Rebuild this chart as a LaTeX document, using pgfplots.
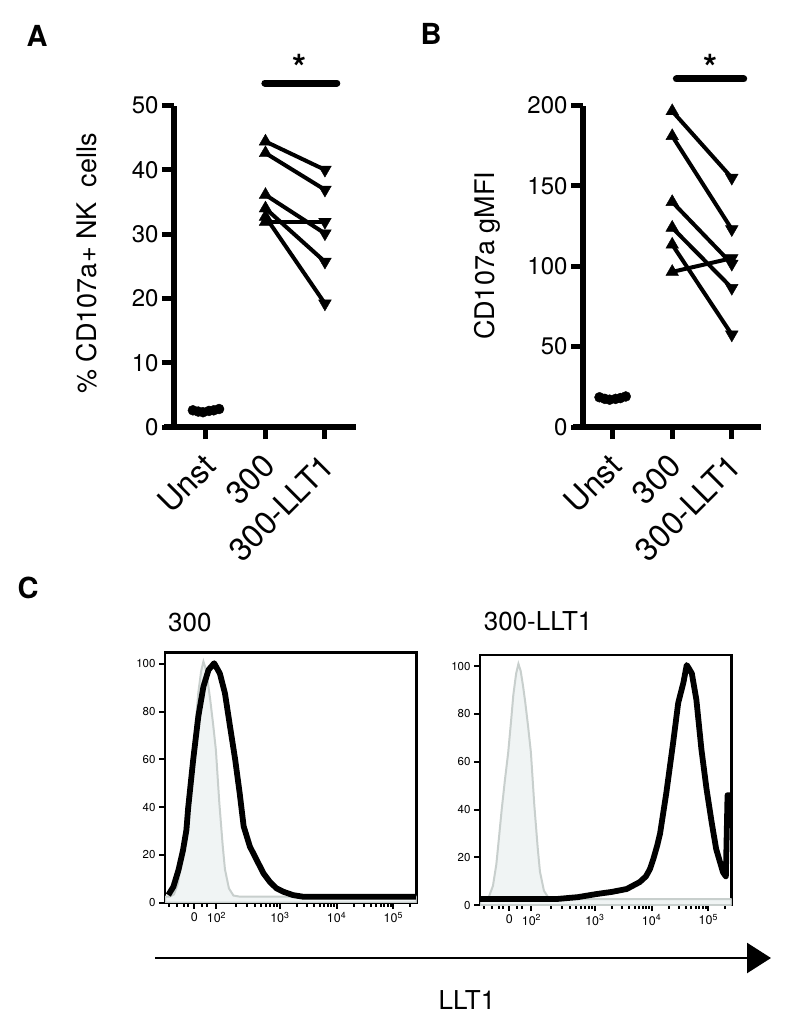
\documentclass[border=0pt]{standalone}
\usepackage{pgfplots}
\pgfplotsset{compat=1.18}
\usepackage{fontspec}
\setmainfont{TeX Gyre Heros}
\usetikzlibrary{arrows.meta}
\definecolor{ctrlfill}{HTML}{F0F4F4}
\definecolor{ctrlline}{HTML}{C8CFCD}
\newcommand{\fs}[1]{\fontsize{#1}{#1}\selectfont}

\pgfplotsset{
 dotplot/.style={scale only axis, height=321.5pt, ymin=0,
   axis x line*=bottom, axis y line*=left,
   axis line style={line width=6pt,-}, x axis line style={shorten <=-10pt},
   xtick={0,1,2}, xticklabels={Unst,300,300-LLT1},
   tick align=outside, major tick length=12pt, tick style={line width=5pt,black},
   /pgf/number format/assume math mode=true,
   yticklabel style={font=\fs{24}},
   xticklabel style={font=\fs{32}, xshift=6pt, yshift=-19pt, rotate=45, anchor=east},
   clip=false,
   every axis y label/.style={rotate=90, anchor=center, font=\fs{27}}},
 pair/.style={black, line width=4pt, no marks},
 up/.style={only marks, black, mark=triangle*, mark size=7.3pt},
 down/.style={only marks, black, mark=triangle*, mark size=7.3pt, mark options={rotate=180}},
 hist/.style={scale only axis, width=251.5pt, height=250pt,
   xmin=0.972, xmax=5.41, ymin=0, ymax=104.7,
   axis line style={line width=2.5pt},
   xtick pos=bottom, ytick pos=left, tick align=outside,
   major tick length=6pt, minor tick length=4pt, tick style={line width=2pt, black},
   xtick={1.49,1.88,3,4,5},
   xticklabels={0,10\textsuperscript{2},10\textsuperscript{3},10\textsuperscript{4},10\textsuperscript{5}},
   minor xtick={1.05,1.18,1.30,1.38,1.62,1.72,2.217,2.414,2.554,2.663,2.751,2.826,2.891,2.948,3.301,3.477,3.602,3.699,3.778,3.845,3.903,3.954,4.301,4.477,4.602,4.699,4.778,4.845,4.903,4.954,5.301},
   ytick={0,20,...,100},
   /pgf/number format/assume math mode=true,
   yticklabel style={font=\fs{11.5}},
   xticklabel style={font=\fs{12.5}},
   title style={font=\fs{26}, anchor=center}},
 ctrl/.style={fill=ctrlfill, draw=ctrlline, line width=2pt},
 samp/.style={black, line width=5.8pt, line join=round, no marks}
}

\pgfplotstableread{
u v
0.972 2.5
1.05 2.5
1.13 3.5
1.20 8
1.26 17
1.31 29
1.355 40
1.41 52
1.47 64
1.52 77
1.56 88
1.61 97
1.65 101
1.69 98
1.73 92
1.77 85
1.82 75
1.87 64
1.93 42
1.99 24
2.03 14
2.10 6
2.18 3
2.30 2.5
5.41 2.5
}\ctrltab

\pgfplotstableread{
u v
1.03 3.2
1.12 6.7
1.21 13.7
1.29 22
1.35 30.5
1.38 39.5
1.47 60
1.56 78
1.65 90.5
1.74 97.5
1.84 100.3
1.94 96
2.03 87.7
2.12 73.7
2.21 60
2.29 45.8
2.36 32
2.47 23.5
2.59 17.9
2.71 12.3
2.82 8.8
2.94 6
3.06 4.6
3.23 3.2
3.41 2.5
5.40 2.5
}\sampA

\pgfplotstableread{
u v
0.972 2.5
2.32 2.5
2.7 3.3
3.03 4.6
3.3 5.5
3.56 6.7
3.79 9.6
3.90 12
3.97 15
4.03 19.2
4.10 25
4.15 30
4.26 47
4.38 68
4.47 84.7
4.56 93
4.62 100.5
4.66 99
4.71 97
4.79 86
4.88 65
4.97 48.5
5.06 34.6
5.14 23.4
5.26 13.7
5.31 12
5.34 46
5.40 46
}\sampB

\begin{document}
\begin{tikzpicture}
\path[use as bounding box] (0pt,0pt) rectangle (800pt,-1029pt);

% Panel A
\begin{axis}[dotplot, at={(174pt,-427pt)}, anchor=south west, width=181.5pt,
  xmin=-0.538, xmax=2.514, ymax=50, ytick={0,10,...,50},
  ylabel={\% CD107a+ NK\ \ cells},
  ylabel style={at={(axis description cs:-0.479,0.509)}}]
\addplot[pair] coordinates {(1,44.4) (2,40.0)};
\addplot[pair] coordinates {(1,42.6) (2,36.9)};
\addplot[pair] coordinates {(1,36.1) (2,30.1)};
\addplot[pair] coordinates {(1,34.0) (2,25.7)};
\addplot[pair] coordinates {(1,32.7) (2,19.2)};
\addplot[pair] coordinates {(1,31.9) (2,31.9)};
\addplot[up] coordinates {(1,44.4) (1,42.6) (1,36.1) (1,34.0) (1,32.7) (1,31.9)};
\addplot[down] coordinates {(2,40.0) (2,36.9) (2,30.1) (2,25.7) (2,19.2) (2,31.9)};
\addplot[only marks, black, mark=*, mark size=5pt] coordinates {(-0.22,2.6) (-0.13,2.4) (-0.05,2.3) (0.05,2.5) (0.13,2.6) (0.22,2.8)};
\addplot[black, line width=7pt, line cap=round, no marks] coordinates {(0.99,53.5) (2.2,53.5)};
\node[font=\fs{36}\bfseries] at (axis cs:1.58,56.0) {*};
\end{axis}

% Panel B
\begin{axis}[dotplot, at={(583pt,-427pt)}, anchor=south west, width=178pt,
  xmin=-0.497, xmax=2.49, ymax=200, ytick={0,50,...,200},
  ylabel={CD107a gMFI},
  ylabel style={at={(axis description cs:-0.539,0.532)}}]
\addplot[pair] coordinates {(1,196.5) (2,155)};
\addplot[pair] coordinates {(1,181) (2,123)};
\addplot[pair] coordinates {(1,140) (2,101.5)};
\addplot[pair] coordinates {(1,124) (2,86.5)};
\addplot[pair] coordinates {(1,113.5) (2,57.5)};
\addplot[pair] coordinates {(1,96.5) (2,105)};
\addplot[up] coordinates {(1,196.5) (1,181) (1,140) (1,124) (1,113.5) (1,96.5)};
\addplot[down] coordinates {(2,155) (2,123) (2,101.5) (2,86.5) (2,57.5) (2,105)};
\addplot[only marks, black, mark=*, mark size=5pt] coordinates {(-0.22,18.5) (-0.13,17.5) (-0.05,17) (0.05,17.5) (0.13,18) (0.22,19)};
\addplot[black, line width=7pt, line cap=round, no marks] coordinates {(1.07,216.5) (2.2,216.5)};
\node[font=\fs{36}\bfseries] at (axis cs:1.64,224) {*};
\end{axis}

% Panel C left
\begin{axis}[hist, at={(165pt,-902.7pt)}, anchor=south west,
  title={300}, title style={at={(axis description cs:0.099,1.097)}}]
\addplot[ctrl] table[x=u,y=v] {\ctrltab} \closedcycle;
\addplot[samp] table[x=u,y=v] {\sampA};
\end{axis}

% Panel C right
\begin{axis}[hist, at={(480pt,-905pt)}, anchor=south west,
  title={300-LLT1}, title style={at={(axis description cs:0.231,1.112)}}]
\addplot[ctrl] table[x=u,y=v] {\ctrltab} \closedcycle;
\addplot[samp] table[x=u,y=v] {\sampB};
\end{axis}

\draw[line width=2.5pt, -{Triangle[length=24pt, width=30pt]}] (155pt,-958pt) -- (771pt,-958pt);
\node[font=\fs{26}] at (467pt,-1000pt) {LLT1};

\node[font=\fs{29}\bfseries] at (37pt,-36pt) {A};
\node[font=\fs{29}\bfseries] at (431pt,-34pt) {B};
\node[font=\fs{29}\bfseries] at (28pt,-588pt) {C};
\end{tikzpicture}
\end{document}
